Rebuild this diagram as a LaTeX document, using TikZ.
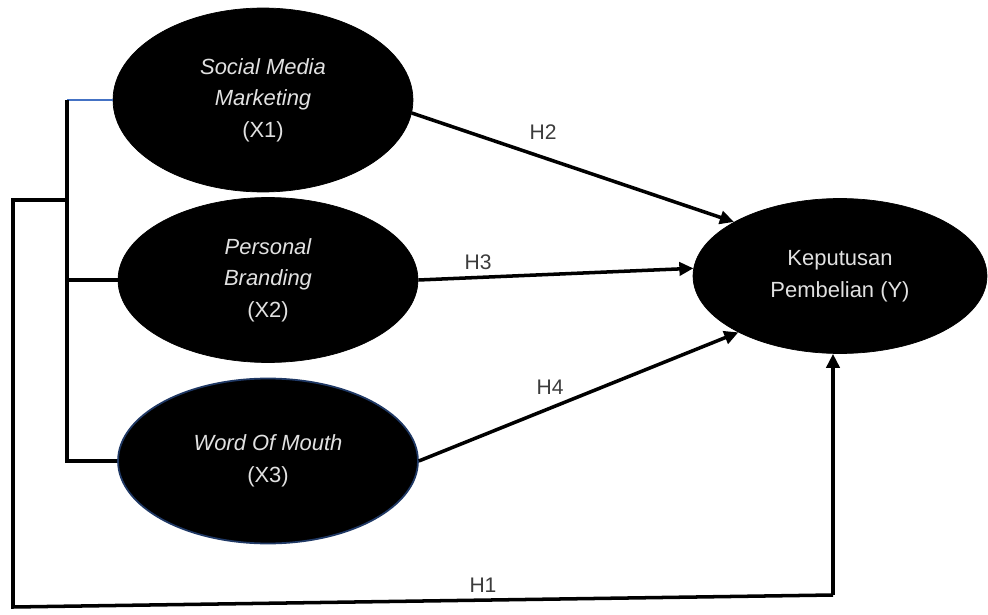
\documentclass[tikz,border=0pt]{standalone}
\usepackage{fontspec}
\setmainfont{Liberation Sans}
\usetikzlibrary{arrows.meta,shapes.geometric,positioning}
\definecolor{txtgray}{RGB}{225,225,225}
\definecolor{lblgray}{RGB}{60,60,60}
\definecolor{wombdr}{RGB}{31,56,100}
\definecolor{linkblue}{RGB}{68,114,196}

\begin{document}
\begin{tikzpicture}[x=0.02cm,y=-0.02cm,
  latent/.style={ellipse,fill=black,draw=black,inner sep=0pt,text=txtgray,
    align=center,font=\fontsize{12.5}{18}\selectfont},
  hyp/.style={text=lblgray,font=\fontsize{12}{14}\selectfont},
  link/.style={line width=2pt},
  arr/.style={link,-{Triangle[length=8pt,width=7.5pt]}}]
  \useasboundingbox (0,0) rectangle (988,615);
  % constructs
  \node[latent,minimum width=6cm,minimum height=3.68cm] (x1) at (263,100)
    {{\itshape Social Media}\\{\itshape Marketing}\\(X1)};
  \node[latent,minimum width=6cm,minimum height=3.3cm] (x2) at (268,280)
    {{\itshape Personal}\\{\itshape Branding}\\(X2)};
  \node[latent,draw=wombdr,line width=1pt,minimum width=6cm,minimum height=3.3cm] (x3) at (268,461)
    {{\itshape Word Of Mouth}\\(X3)};
  \node[latent,minimum width=5.88cm,minimum height=3.1cm] (y) at (840,276)
    {Keputusan\\Pembelian (Y)};
  % bracket on the left
  \coordinate (j1) at (67,100);
  \coordinate (j2) at (67,280);
  \coordinate (j3) at (67,461);
  \coordinate (jm) at (67,200);
  \coordinate (c0) at (13,200);
  \coordinate (c1) at (13,607);
  \coordinate (c2) at (833,595);
  \draw[line width=1.3pt,linkblue] (j1) -- (x1.west);
  \draw[link] (j1) -- (j3) -- (x3.west);
  \draw[link] (j2) -- (x2.west);
  \draw[link] (jm) -- (c0) -- (c1) -- (c2);
  \draw[arr] (c2) -- (c2 |- y.south);
  % paths
  \draw[arr] (x1.-5) -- (y.153);
  \draw[arr] (x2.east) -- (y.177);
  \draw[arr] (x3.east) -- (y.209);
  \node[hyp] (h2) at (543,132) {H2};
  \node[hyp] (h3) at (478,262) {H3};
  \node[hyp] (h4) at (550,387) {H4};
  \node[hyp] (h1) at (483,585) {H1};
\end{tikzpicture}
\end{document}
